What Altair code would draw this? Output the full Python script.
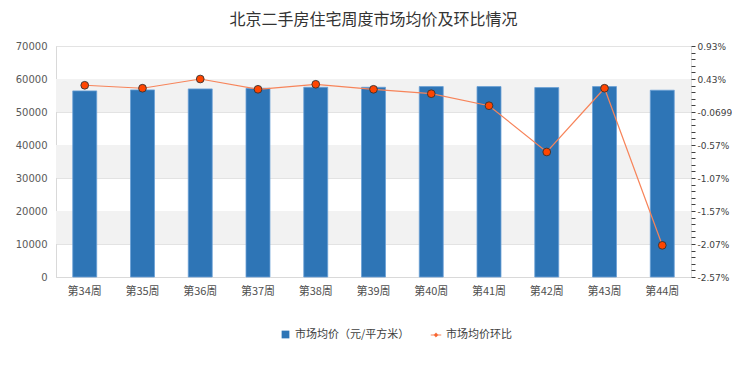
import altair as alt
import pandas as pd

weeks = ["第34周", "第35周", "第36周", "第37周", "第38周", "第39周",
         "第40周", "第41周", "第42周", "第43周", "第44周"]
avg_price = [56400, 56700, 57000, 57200, 57500, 57500,
             57700, 57700, 57400, 57700, 56600]
mom_pct = [0.335, 0.29, 0.43, 0.274, 0.35, 0.274,
           0.207, 0.025, -0.676, 0.29, -2.09]

left_ticks = [0, 10000, 20000, 30000, 40000, 50000, 60000, 70000]
band_lo = [50000, 30000, 10000]
band_hi = [60000, 40000, 20000]

right_major = [0.93, 0.43, -0.07, -0.57, -1.07, -1.57, -2.07, -2.57]
right_labels = ["0.93%", "0.43%", "-0.0699", "-0.57%", "-1.07%", "-1.57%", "-2.07%", "-2.57%"]
right_minor = [round(-2.57 + 0.1 * i, 2) for i in range(36)]

bar_name = "市场均价（元/平方米）"
line_name = "市场均价环比"

df = pd.DataFrame({"week": weeks, "price": avg_price, "pct": mom_pct,
                   "s1": bar_name, "s2": line_name})
bands = pd.DataFrame({"lo": band_lo, "hi": band_hi})

font = "Noto Sans CJK SC"
num_font = "DejaVu Sans"

label_expr = ""
for v, t in zip(right_major, right_labels):
    label_expr += f"abs(datum.value - ({v})) < 0.001 ? '{t}' : "
label_expr += "''"

x_enc = alt.X("week:N", sort=weeks, title=None,
              scale=alt.Scale(paddingInner=0.585, paddingOuter=0.29),
              axis=alt.Axis(labelAngle=0, ticks=False, labelPadding=8,
                            labelColor="#505050", labelFontSize=11, labelFont=font,
                            domainColor="#d9d9d9", grid=False))

y_left_scale = alt.Scale(domain=[0, 70000], nice=False)
left_axis = alt.Axis(values=left_ticks, title=None, ticks=False, format="d",
                     labelColor="#595959", labelFontSize=10, labelFont=num_font,
                     labelPadding=9, domainColor="#d9d9d9",
                     gridColor="#e3e3e3", grid=True)

band_layer = alt.Chart(bands).mark_rect(color="#f2f2f2").encode(
    y=alt.Y("lo:Q", scale=y_left_scale, axis=left_axis),
    y2="hi:Q",
)

bar_layer = alt.Chart(df).mark_bar(color="#2e75b6", stroke="#6a9fd6", strokeWidth=0.8).encode(
    x=x_enc,
    y=alt.Y("price:Q", scale=y_left_scale, axis=left_axis),
    opacity=alt.Opacity("s1:N", legend=alt.Legend(
        title=None, orient="none", legendX=224, legendY=283,
        symbolType="square", symbolFillColor="#2e75b6", symbolStrokeColor="#2e75b6",
        symbolSize=60, labelFont=font, labelFontSize=11, labelColor="#404040"),
        scale=alt.Scale(range=[1])),
)

y_right_scale = alt.Scale(domain=[-2.57, 0.93], nice=False)
right_axis = alt.Axis(orient="right", values=right_minor, labelExpr=label_expr,
                      title=None, grid=False, domain=False, tickSize=4,
                      tickColor="#404040", labelOverlap=False, labelPadding=2,
                      labelColor="#404040", labelFontSize=9, labelFont=num_font)

line_layer = alt.Chart(df).mark_line(strokeWidth=1.2).encode(
    x=alt.X("week:N", sort=weeks),
    y=alt.Y("pct:Q", scale=y_right_scale, axis=right_axis),
    color=alt.Color("s2:N", scale=alt.Scale(range=["#f7845a"]), legend=alt.Legend(
        title=None, orient="none", legendX=374, legendY=283,
        symbolType="M-1,0H1M0,-0.4L0.4,0L0,0.4L-0.4,0Z",
        symbolFillColor="#ff4500", symbolStrokeColor="#f7845a", symbolStrokeWidth=1,
        symbolSize=110, labelFont=font, labelFontSize=11, labelColor="#404040")),
)

point_layer = alt.Chart(df).mark_point(filled=True, fill="#ff4500", stroke="#333333",
                                       strokeWidth=0.9, size=60, opacity=1).encode(
    x=alt.X("week:N", sort=weeks),
    y=alt.Y("pct:Q", scale=y_right_scale, axis=right_axis),
)

left = alt.layer(band_layer, bar_layer)
right = alt.layer(line_layer, point_layer)

chart = alt.layer(left, right).resolve_scale(
    y="independent", opacity="independent"
).properties(
    width=635, height=231,
    autosize=alt.AutoSizeParams(type="none"),
    padding={"left": 48, "top": 38, "right": 41, "bottom": 85},
    title=alt.TitleParams("北京二手房住宅周度市场均价及环比情况", fontSize=16,
                          font=font, fontWeight="normal", color="#333333",
                          anchor="middle", offset=13),
).configure_view(stroke=None).configure(background="white")

chart.save("out.html", embed_options={"renderer": "svg", "actions": False})
